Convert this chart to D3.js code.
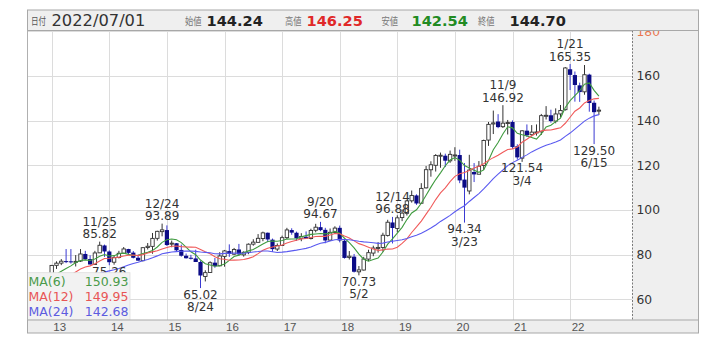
<!DOCTYPE html>
<html><head><meta charset="utf-8">
<script src="https://cdn.jsdelivr.net/npm/d3@7"></script>
<style>body{margin:0;background:#fff}</style>
</head><body>
<svg id="c" width="716" height="349"></svg>
<script>
// ---- data: monthly candles, Aug 2012 .. Jul 2022 ----
const firstYear = 2012, firstMonth = 8;
const open = [64.6,67.2,69.4,69.2,69.9,
 68.3,75.2,76.2,77.1,77.0,76.8,77.1,80.3,78.0,75.6,80.8,84.1,
 81.4,76.6,78.7,80.6,82.5,80.9,78.6,77.3,83.2,83.7,87.3,90.3,
 91.0,84.7,85.1,82.1,79.5,78.6,78.3,76.7,70.2,72.0,76.4,75.0,
 79.2,81.6,80.2,82.3,79.9,81.0,84.7,85.5,87.2,89.8,86.7,82.5,
 84.1,87.6,91.0,89.8,87.3,88.0,87.2,90.9,92.3,91.1,86.5,89.9,
 92.0,86.2,78.7,79.1,72.3,73.1,78.0,80.7,83.0,83.2,88.6,94.4,
 91.7,96.6,98.5,104.1,106.5,103.0,109.9,118.0,120.0,124.3,124.3,122.0,
 124.5,124.6,113.6,108.5,117.0,116.0,119.9,131.3,138.5,139.6,137.3,138.7,
 139.4,128.5,123.2,135.5,133.7,134.8,135.0,142.2,142.4,139.8,143.0,144.9,
 163.0,160.4,155.8,152.9,160.6,148.0,144.24];
const high = [67.9,70.0,70.6,71.0,70.5,
 75.4,77.0,78.0,82.5,82.5,79.8,82.5,81.7,79.7,81.7,85.82,84.5,
 81.9,79.4,81.7,83.4,82.6,81.6,80.0,83.3,85.2,89.7,90.7,93.89,
 93.1,86.3,85.2,84.5,80.5,79.9,82.2,77.3,73.0,77.0,78.5,81.1,
 82.1,84.6,83.0,84.8,81.5,85.0,86.9,89.2,90.3,89.9,87.2,85.0,
 88.5,92.0,91.8,90.3,89.6,90.4,91.6,93.8,94.67,92.0,91.7,92.7,
 93.0,86.6,81.6,80.3,74.9,79.0,82.2,84.0,85.6,89.8,95.6,96.88,
 97.6,100.2,104.5,108.7,107.0,112.0,119.7,121.8,125.0,125.7,125.2,126.6,
 128.1,127.0,121.0,124.7,121.0,121.9,131.5,139.4,144.5,142.9,146.92,140.3,
 140.1,129.4,135.8,138.3,138.0,138.3,143.0,146.5,144.9,145.5,147.0,164.0,
 165.35,162.0,157.0,164.9,161.0,149.0,146.25];
const low = [64.0,66.7,68.4,68.3,66.9,
 68.0,73.6,75.3,76.2,76.0,74.7,76.7,77.6,75.6,75.4,80.7,79.0,
 75.26,75.5,78.3,80.4,79.9,78.3,77.1,77.0,82.3,80.4,86.3,88.2,
 83.9,83.3,81.3,79.1,78.2,77.8,76.7,65.02,68.0,71.9,74.1,74.8,
 74.6,79.0,79.8,79.6,79.1,80.2,84.0,85.5,86.0,85.6,81.2,81.6,
 84.0,87.0,88.9,86.1,86.0,87.0,86.8,90.0,90.5,85.1,86.1,89.3,
 85.5,78.2,77.8,72.0,70.73,72.9,77.1,79.3,80.9,81.3,88.1,85.0,
 90.0,95.0,97.5,103.3,102.3,102.8,109.6,114.9,117.2,118.9,119.2,121.1,
 122.0,112.0,94.34,107.0,112.5,116.0,117.9,128.7,134.0,136.6,136.7,133.8,
 127.4,122.5,121.54,132.7,133.0,133.3,133.6,140.5,139.1,138.8,141.5,144.5,
 153.7,148.5,148.4,151.6,144.0,129.50,142.54];
const close = [67.19,69.36,69.24,69.83,67.89,
 75.17,76.18,77.06,76.77,76.76,76.99,80.30,77.91,75.59,80.75,84.19,81.41,
 76.61,78.66,80.60,82.55,80.79,78.59,77.32,83.11,83.74,87.27,90.43,91.09,
 84.30,85.14,81.94,79.51,78.39,78.24,76.70,70.66,71.94,76.38,74.84,79.41,
 81.66,80.29,82.31,80.12,81.04,84.67,85.59,87.31,89.75,86.80,82.46,84.08,
 87.60,91.06,89.85,87.33,88.10,87.15,90.82,92.28,90.98,86.34,89.99,91.88,
 86.34,78.52,79.28,72.34,73.17,78.06,80.88,82.95,83.23,88.68,94.51,91.92,
 96.47,98.58,104.05,106.48,102.91,109.65,118.04,120.23,124.38,124.51,122.06,124.90,
 124.62,113.24,110.00,117.87,115.92,119.57,131.12,138.33,138.99,137.10,138.87,139.14,
 128.21,123.54,135.43,133.42,134.85,134.93,142.23,142.39,139.80,142.99,144.56,163.58,
 160.49,155.96,152.80,160.55,147.89,143.79,144.70];
// closes before the first visible candle (Sep 2010 .. Jul 2012), used only by the moving averages
const histClose = [59.97,63.57,61.07,64.33,
 63.13,63.05,61.60,64.90,67.00,63.57,61.49,63.67,63.18,63.98,62.44,66.71,
 63.04,67.51,67.21,63.64,62.29,61.25,64.55];

const maPeriods = [6,12,24];
const maNames = ["MA(6)","MA(12)","MA(24)"];
const maValues = ["150.93","149.95","142.68"];
const maColors = ["#3f9b3f","#f05a5a","#5a5af0"];
const maTextColors = ["#4a9a4a","#e85555","#5c5ce0"];

const yTicks = [60,80,100,120,140,160,180];
const yearLabels = ["13","14","15","16","17","18","19","20","21","22"];

const headerDate = "2022/07/01";
const headerNames = ["始値","高値","安値","終値"];
const headerValues = ["144.24","146.25","142.54","144.70"];
const headerColors = ["#222","#e02828","#228b22","#222"];

const annMonth = ["2013-11","2014-01","2014-12","2015-08","2017-09","2018-05","2018-12","2020-03","2020-11","2021-03","2022-01","2022-06"];
const annDate  = ["11/25","","12/24","8/24","9/20","5/2","12/14","3/23","11/9","3/4","1/21","6/15"];
const annValue = [85.82,75.26,93.89,65.02,94.67,70.73,96.88,94.34,146.92,121.54,165.35,129.50];
const annType  = ["hi","lo","hi","lo","hi","lo","hi","lo","hi","lo","hi","lo"];

// ---- layout ----
const L = 27.5, R = 698.5, PR = 632, HT = 10, HB = 30.5, PB = 320, SB = 333;
const svg = d3.select("#c");
const x = d3.scaleLinear().domain([5,113]).range([51.7,570.1]); // month index (0 = Aug 2012)
const y = d3.scaleLinear().domain([60,180]).range([299.3,31.3]);
const FONT = "DejaVu Sans, Verdana, sans-serif";
const defs = svg.append("defs");

defs.append("clipPath").attr("id","plot")
  .append("rect").attr("x",L).attr("y",HB).attr("width",PR-L).attr("height",PB-HB);
defs.append("clipPath").attr("id","axclip")
  .append("rect").attr("x",PR).attr("y",HB).attr("width",R-PR).attr("height",PB-HB);

// right axis panel
svg.append("rect").attr("x",PR).attr("y",HB).attr("width",R-PR).attr("height",PB-HB).attr("fill","#efefef");

const plot = svg.append("g").attr("clip-path","url(#plot)");
// grid
plot.selectAll(".hg").data(yTicks).join("line")
  .attr("x1",L).attr("x2",PR).attr("y1",d=>Math.round(y(d))+0.5).attr("y2",d=>Math.round(y(d))+0.5)
  .attr("stroke","#dcdcdc").attr("stroke-width",1);
plot.selectAll(".vg").data(yearLabels).join("line")
  .attr("x1",(d,k)=>Math.round(x(5+12*k))+0.5).attr("x2",(d,k)=>Math.round(x(5+12*k))+0.5)
  .attr("y1",HB).attr("y2",PB).attr("stroke","#dcdcdc").attr("stroke-width",1);

// candles
const idx = d3.range(close.length);
const up = i => close[i] >= open[i];
plot.selectAll(".wick").data(idx).join("line")
  .attr("x1",i=>x(i)).attr("x2",i=>x(i)).attr("y1",i=>y(high[i])).attr("y2",i=>y(low[i]))
  .attr("stroke",i=>up(i)?"#333":"#3a3ad2").attr("stroke-width",1);
plot.selectAll(".body").data(idx).join("rect")
  .attr("x",i=>x(i)-(up(i)?1.7:2.1)).attr("width",i=>up(i)?3.4:4.2)
  .attr("y",i=>y(Math.max(open[i],close[i])))
  .attr("height",i=>Math.max(1,Math.abs(y(open[i])-y(close[i]))))
  .attr("fill",i=>up(i)?"#fff":"#0c0c86")
  .attr("stroke",i=>up(i)?"#333":"none").attr("stroke-width",0.9);

// moving averages
const allClose = histClose.concat(close);
const off = histClose.length;
maPeriods.forEach((p,k)=>{
  const pts = idx.map(i=>[x(i), y(d3.mean(allClose.slice(off+i-p+1, off+i+1)))]);
  plot.append("path").attr("d",d3.line()(pts)).attr("fill","none")
    .attr("stroke",maColors[k]).attr("stroke-width",1.1);
});

// annotations
const mIdx = s => { const [yy,mm] = s.split("-").map(Number); return (yy-firstYear)*12 + (mm-firstMonth); };
annMonth.forEach((m,k)=>{
  const cx = x(mIdx(m)), vy = y(annValue[k]);
  const g = plot.append("g").attr("font-family",FONT).attr("font-size",12).attr("fill","#333").attr("text-anchor","middle");
  const vt = annValue[k].toFixed(2);
  if (annType[k]==="hi") {
    g.append("text").attr("x",cx).attr("y",vy-3.5).text(vt);
    g.append("text").attr("x",cx).attr("y",vy-16).text(annDate[k]);
  } else {
    g.append("text").attr("x",cx).attr("y",vy+10.5).text(vt);
    if (annDate[k]) g.append("text").attr("x",cx).attr("y",vy+23).text(annDate[k]);
  }
});

// legend
svg.append("rect").attr("x",L).attr("y",272.7).attr("width",130-L).attr("height",PB-272.7)
  .attr("fill","#f2f2f2").attr("stroke","#dedede").attr("stroke-width",0.8);
maNames.forEach((n,k)=>{
  svg.append("text").attr("x",28.5).attr("y",286+14.8*k).attr("font-family",FONT).attr("font-size",12.5)
    .attr("fill",maTextColors[k]).text(n);
  svg.append("text").attr("x",128.5).attr("y",286+14.8*k).attr("font-family",FONT).attr("font-size",12.5)
    .attr("text-anchor","end").attr("fill",maTextColors[k]).text(maValues[k]);
});

// dashed separator
svg.append("line").attr("x1",PR+0.5).attr("x2",PR+0.5).attr("y1",HB).attr("y2",PB)
  .attr("stroke","#7a7a7a").attr("stroke-dasharray","2,1.5").attr("stroke-width",1);

// right axis labels
const axG = svg.append("g").attr("clip-path","url(#axclip)");
axG.selectAll("text").data(yTicks).join("text")
  .attr("x",636.5).attr("y",d=>y(d)).attr("dy","0.36em")
  .attr("font-family",FONT).attr("font-size",12.3)
  .attr("fill",d=>d===180?"#e8774f":"#333").text(d=>d);

// header
svg.append("rect").attr("x",L).attr("y",HT).attr("width",R-L).attr("height",HB-HT)
  .attr("fill","#efefef").attr("stroke","#a8a8a8").attr("stroke-width",1);
const CJK = "Noto Sans CJK JP, sans-serif";
svg.append("text").attr("x",31).attr("y",25).attr("font-family",CJK).attr("font-size",10.5)
  .attr("textLength",15).attr("lengthAdjust","spacingAndGlyphs").attr("fill","#555").text("日付");
svg.append("text").attr("x",51.5).attr("y",25.8).attr("font-family",FONT).attr("font-size",16.3).attr("fill","#333").text(headerDate);
const hNameX = [185,285,381.5,478], hValX = [206.5,306.5,411.5,509.5];
headerNames.forEach((n,k)=>{
  svg.append("text").attr("x",hNameX[k]).attr("y",25).attr("font-family",CJK).attr("font-size",10)
    .attr("textLength",16.5).attr("lengthAdjust","spacingAndGlyphs").attr("fill","#777").text(n);
  svg.append("text").attr("x",hValX[k]).attr("y",25.8).attr("font-family",FONT).attr("font-weight","bold")
    .attr("font-size",14.6).attr("fill",headerColors[k]).text(headerValues[k]);
});

// x-axis strip
svg.append("rect").attr("x",L).attr("y",PB).attr("width",R-L).attr("height",SB-PB)
  .attr("fill","#eeeeee").attr("stroke","#a8a8a8").attr("stroke-width",1);
svg.selectAll(".yl").data(yearLabels).join("text")
  .attr("x",(d,k)=>x(5+12*k)+8).attr("y",330.5).attr("text-anchor","middle")
  .attr("font-family","Liberation Sans Narrow, Liberation Sans, sans-serif").attr("font-size",11.5)
  .attr("fill","#555").text(d=>d);

// outer frame of the plot
svg.append("line").attr("x1",L).attr("x2",L).attr("y1",HB).attr("y2",PB).attr("stroke","#b0b0b0");
svg.append("line").attr("x1",R).attr("x2",R).attr("y1",HB).attr("y2",PB).attr("stroke","#a8a8a8");
</script>
</body></html>
